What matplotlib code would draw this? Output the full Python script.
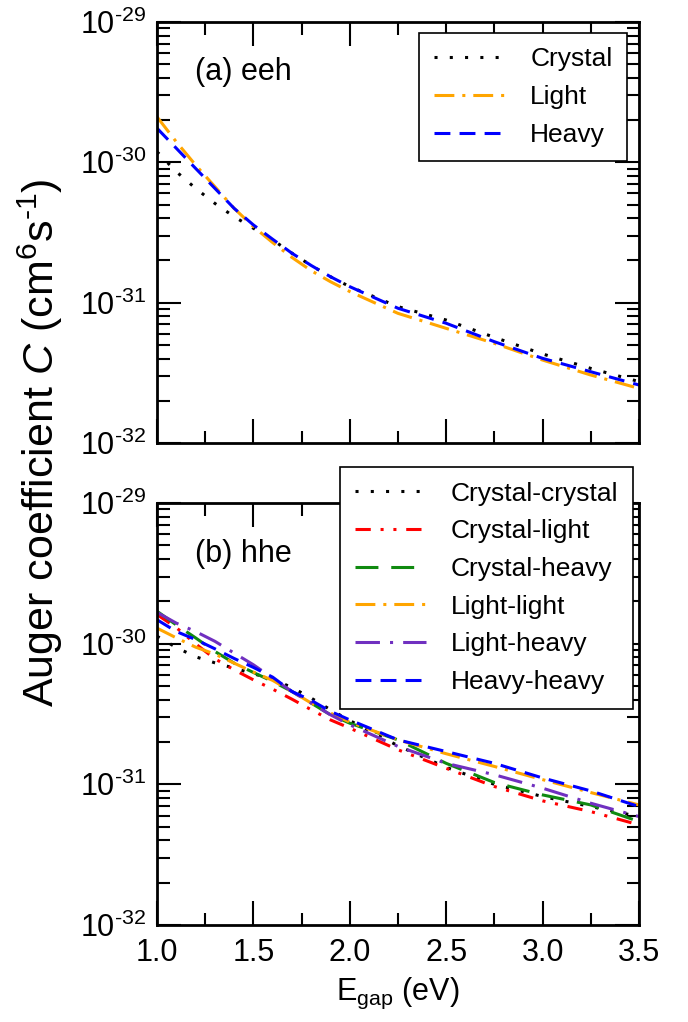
import matplotlib
matplotlib.use("Agg")
import matplotlib.pyplot as plt
from matplotlib.ticker import LogLocator, MultipleLocator, NullFormatter, FixedLocator

plt.rcParams['font.family'] = ['Liberation Sans', 'DejaVu Sans']
plt.rcParams['mathtext.fontset'] = 'custom'
plt.rcParams['mathtext.rm'] = 'Liberation Sans'
plt.rcParams['mathtext.it'] = 'Liberation Sans:italic'
plt.rcParams['mathtext.bf'] = 'Liberation Sans:bold'

# ---------------- data ----------------
E = [1.0, 1.1, 1.2, 1.3, 1.4, 1.5, 1.6, 1.7, 1.8, 1.9, 2.0, 2.25, 2.5, 2.75, 3.0, 3.25, 3.5]

# (a) eeh
eeh_crystal = [1.19e-30, 8.58e-31, 6.53e-31, 5.10e-31, 4.10e-31, 3.39e-31, 2.80e-31, 2.25e-31, 1.84e-31,
               1.53e-31, 1.30e-31, 9.37e-32, 7.52e-32, 5.66e-32, 4.31e-32, 3.40e-32, 2.74e-32]
eeh_light = [2.11e-30, 1.40e-30, 9.57e-31, 6.71e-31, 4.70e-31, 3.48e-31, 2.68e-31, 2.10e-31, 1.69e-31,
             1.41e-31, 1.20e-31, 8.39e-32, 6.56e-32, 5.13e-32, 3.90e-32, 3.05e-32, 2.45e-32]
eeh_heavy = [1.75e-30, 1.26e-30, 9.06e-31, 6.53e-31, 4.70e-31, 3.58e-31, 2.83e-31, 2.25e-31, 1.84e-31,
             1.53e-31, 1.30e-31, 9.12e-32, 7.13e-32, 5.27e-32, 4.01e-32, 3.22e-32, 2.59e-32]

# (b) hhe
hhe_cc = [1.13e-30, 9.40e-31, 8.07e-31, 7.31e-31, 6.70e-31, 6.11e-31, 5.59e-31, 4.88e-31, 4.10e-31,
          3.39e-31, 2.84e-31, 1.88e-31, 1.32e-31, 1.00e-31, 8.19e-32, 6.95e-32, 5.90e-32]
hhe_cl = [1.61e-30, 1.30e-30, 9.98e-31, 7.81e-31, 6.52e-31, 5.53e-31, 4.75e-31, 4.03e-31, 3.39e-31,
          2.87e-31, 2.51e-31, 1.76e-31, 1.30e-31, 9.65e-32, 7.63e-32, 6.40e-32, 5.15e-32]
hhe_ch = [1.70e-30, 1.36e-30, 1.10e-30, 8.81e-31, 7.27e-31, 6.24e-31, 5.39e-31, 4.57e-31, 3.78e-31,
          3.12e-31, 2.72e-31, 2.07e-31, 1.41e-31, 1.03e-31, 8.41e-32, 7.14e-32, 5.44e-32]
hhe_ll = [1.29e-30, 1.10e-30, 9.45e-31, 8.43e-31, 7.27e-31, 6.28e-31, 5.48e-31, 4.57e-31, 3.78e-31,
          3.21e-31, 2.77e-31, 2.07e-31, 1.65e-31, 1.34e-31, 1.08e-31, 8.74e-32, 7.14e-32]
hhe_lh = [1.67e-30, 1.40e-30, 1.22e-30, 1.04e-30, 8.57e-31, 7.08e-31, 5.69e-31, 4.57e-31, 3.78e-31,
          3.12e-31, 2.65e-31, 1.86e-31, 1.41e-31, 1.17e-31, 9.39e-32, 7.34e-32, 5.90e-32]
hhe_hh = [1.48e-30, 1.22e-30, 1.07e-30, 9.20e-31, 7.85e-31, 6.78e-31, 5.78e-31, 4.57e-31, 3.95e-31,
          3.30e-31, 2.87e-31, 2.07e-31, 1.71e-31, 1.41e-31, 1.11e-31, 8.98e-32, 6.95e-32]

labels_a = ["Crystal", "Light", "Heavy"]
labels_b = ["Crystal-crystal", "Crystal-light", "Crystal-heavy", "Light-light", "Light-heavy", "Heavy-heavy"]
xticks = [1.0, 1.5, 2.0, 2.5, 3.0, 3.5]
xticklabels = ["1.0", "1.5", "2.0", "2.5", "3.0", "3.5"]
yticks = [1e-32, 1e-31, 1e-30, 1e-29]
yticklabels = [r"$10^{\text{-32}}$", r"$10^{\text{-31}}$", r"$10^{\text{-30}}$", r"$10^{\text{-29}}$"]

# ---------------- styles ----------------
LW = 2.2
st_dot = dict(color='black', ls=(0, (1, 4)))
st_orange = dict(color='#FFA500', ls=(0, (6.5, 2.6, 1, 2.6)))
st_blue = dict(color='#0000FF', ls=(0, (5.2, 3.0)))
st_red = dict(color='#FF0000', ls=(0, (5, 3.2, 1, 3.2, 1, 3.2)))
st_green = dict(color='#108A10', ls=(0, (7.5, 4.2)))
st_purple = dict(color='#7030C0', ls=(0, (8, 3.3, 1, 3.3)))

W, H = 688, 1022
fig = plt.figure(figsize=(W / 100, H / 100), dpi=100)

L, R = 157, 639
ax1 = fig.add_axes([L / W, 1 - 443 / H, (R - L) / W, 421 / H])
ax2 = fig.add_axes([L / W, 1 - 925 / H, (R - L) / W, 422 / H])

ax1.plot(E, eeh_crystal, lw=LW, label=labels_a[0], **st_dot)
ax1.plot(E, eeh_light, lw=LW, label=labels_a[1], **st_orange)
ax1.plot(E, eeh_heavy, lw=LW, label=labels_a[2], **st_blue)

ax2.plot(E, hhe_cc, lw=LW, label=labels_b[0], **st_dot)
ax2.plot(E, hhe_cl, lw=LW, label=labels_b[1], **st_red)
ax2.plot(E, hhe_ch, lw=LW, label=labels_b[2], **st_green)
ax2.plot(E, hhe_ll, lw=LW, label=labels_b[3], **st_orange)
ax2.plot(E, hhe_lh, lw=LW, label=labels_b[4], **st_purple)
ax2.plot(E, hhe_hh, lw=LW, label=labels_b[5], **st_blue)

for ax in (ax1, ax2):
    ax.set_yscale('log')
    ax.set_xlim(1.0, 3.5)
    ax.set_ylim(1e-32, 1e-29)
    ax.yaxis.set_major_locator(FixedLocator(yticks))
    ax.set_yticklabels(yticklabels)
    ax.yaxis.set_minor_locator(LogLocator(base=10, subs=range(2, 10)))
    ax.yaxis.set_minor_formatter(NullFormatter())
    ax.set_xticks(xticks)
    ax.xaxis.set_minor_locator(MultipleLocator(0.25))
    ax.tick_params(which='both', direction='in', top=True, right=True, width=1.5)
    ax.tick_params(which='major', length=17, labelsize=22)
    ax.tick_params(which='minor', length=9)
    ax.tick_params(axis='y', which='both', pad=8)
    ax.tick_params(axis='x', which='both', pad=9)
    for s in ax.spines.values():
        s.set_linewidth(2.0)

ax1.set_xticklabels([])
ax2.set_xticklabels(xticklabels)
ax2.set_xlabel(r"E$_{\rm gap}$ (eV)", fontsize=22, labelpad=6)

ax1.text(0.079, 0.881, "(a) eeh", transform=ax1.transAxes, fontsize=22, va='center', ha='left')
ax2.text(0.079, 0.879, "(b) hhe", transform=ax2.transAxes, fontsize=22, va='center', ha='left')

leg_kw = dict(fontsize=19, frameon=True, fancybox=False, edgecolor='black', framealpha=1,
              handlelength=2.7, handletextpad=0.95, borderpad=0.55, labelspacing=0.52,
              borderaxespad=0)
lg1 = ax1.legend(loc='upper right', bbox_to_anchor=(0.975, 0.974), **leg_kw)
lg2 = ax2.legend(loc='upper right', bbox_to_anchor=(0.9876, 1.0853), **leg_kw)
for lg in (lg1, lg2):
    lg.get_frame().set_linewidth(1.2)
    lg.set_zorder(10)

fig.text(0.058, 0.567, r"Auger coefficient $C$ (cm$^{6}$s$^{\text{-1}}$)", rotation=90,
         fontsize=31, ha='center', va='center')

fig.savefig("out.png", dpi=100)
